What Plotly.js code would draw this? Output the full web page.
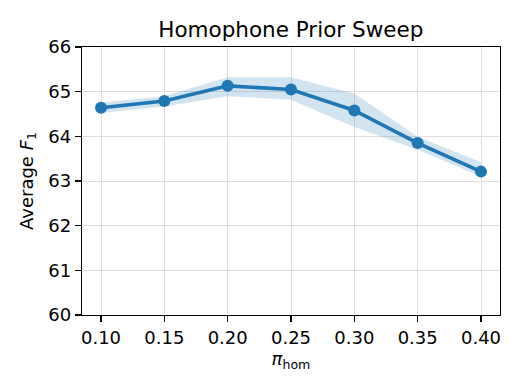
<!DOCTYPE html>
<html>
<head>
<meta charset="utf-8">
<script src="https://cdn.plot.ly/plotly-3.0.1.min.js"></script>
<style>html,body{margin:0;padding:0;background:#fff;}#chart{width:523px;height:392px;}</style>
</head>
<body>
<div id="chart"></div>
<script>
const piHom = [0.10, 0.15, 0.20, 0.25, 0.30, 0.35, 0.40];
const meanF1 = [64.64, 64.79, 65.13, 65.05, 64.58, 63.85, 63.21];
const upperF1 = [64.76, 64.90, 65.32, 65.32, 64.96, 63.99, 63.42];
const lowerF1 = [64.52, 64.67, 64.90, 64.82, 64.21, 63.70, 63.10];
const xTicks = ['0.10', '0.15', '0.20', '0.25', '0.30', '0.35', '0.40'];

const blue = '#1f77b4';
const traces = [
  {x: piHom, y: lowerF1, type: 'scatter', mode: 'lines', line: {width: 0}, hoverinfo: 'skip', showlegend: false},
  {x: piHom, y: upperF1, type: 'scatter', mode: 'lines', line: {width: 0}, fill: 'tonexty', fillcolor: 'rgba(31,119,180,0.2)', hoverinfo: 'skip', showlegend: false},
  {x: piHom, y: meanF1, type: 'scatter', mode: 'lines+markers', line: {color: blue, width: 3.6}, marker: {color: blue, size: 12}, showlegend: false}
];
const font = {family: 'DejaVu Sans, sans-serif', color: '#000'};
const layout = {
  width: 523, height: 392,
  margin: {l: 82, r: 23, t: 47, b: 77},
  paper_bgcolor: '#fff', plot_bgcolor: '#fff',
  font: font,
  title: {text: 'Homophone Prior Sweep', font: {family: font.family, size: 21.5, color: '#000'}, x: 0.556, xanchor: 'center', y: 1 - 29/392, yanchor: 'middle', yref: 'container'},
  xaxis: {
    range: [0.085, 0.415], tickvals: piHom, ticktext: xTicks,
    showline: true, linecolor: '#000', linewidth: 1.3, mirror: true,
    ticks: 'outside', ticklen: 6, tickcolor: '#000', tickwidth: 1.3,
    tickfont: {size: 18, family: font.family, color: '#000'},
    showgrid: true, gridcolor: '#dedede', gridwidth: 1, zeroline: false,
    title: {text: '<i>π</i><sub>hom</sub>', font: {size: 18, family: font.family, color: '#000'}, standoff: 4}
  },
  yaxis: {
    range: [60, 66], tickvals: [60, 61, 62, 63, 64, 65, 66],
    showline: true, linecolor: '#000', linewidth: 1.3, mirror: true,
    ticks: 'outside', ticklen: 6, tickcolor: '#000', tickwidth: 1.3,
    tickfont: {size: 18, family: font.family, color: '#000'},
    showgrid: true, gridcolor: '#dedede', gridwidth: 1, zeroline: false,
    title: {text: 'Average <i>F</i><sub>1</sub>', font: {size: 18, family: font.family, color: '#000'}, standoff: 10}
  }
};
Plotly.newPlot('chart', traces, layout, {displayModeBar: false, staticPlot: true});
</script>
</body>
</html>
